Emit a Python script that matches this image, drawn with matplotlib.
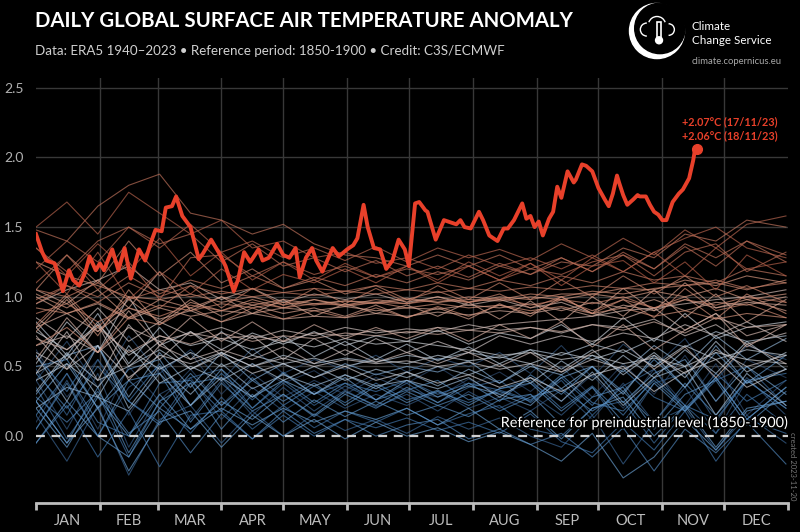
import numpy as np
import matplotlib
matplotlib.use("Agg")
import matplotlib.pyplot as plt
from matplotlib.colors import LinearSegmentedColormap
from matplotlib.patches import Circle, Arc, Rectangle
import matplotlib.patheffects as pe

plt.rcParams['font.family'] = ['Lato', 'DejaVu Sans']

# ---------------- data ----------------
months = ['JAN', 'FEB', 'MAR', 'APR', 'MAY', 'JUN', 'JUL', 'AUG', 'SEP', 'OCT', 'NOV', 'DEC']
month_starts = [0, 31, 59, 90, 120, 151, 181, 212, 243, 273, 304, 334, 365]
yticks = [0.0, 0.5, 1.0, 1.5, 2.0, 2.5]
ytick_labels = ['0.0', '0.5', '1.0', '1.5', '2.0', '2.5']

days_2023 = [0, 3, 5, 9, 11, 13, 16, 18, 21, 24, 26, 29, 31, 33, 37, 40, 43, 46, 50, 53,
             56, 58, 61, 63, 66, 68, 71, 75, 79, 81, 85, 89, 92, 96, 98, 101, 104, 108, 110, 113,
             117, 120, 123, 126, 128, 131, 134, 136, 139, 144, 147, 151, 154, 156, 159, 161, 164, 167, 170, 173,
             176, 179, 181, 184, 186, 189, 190, 194, 198, 202, 204, 206, 208, 211, 215, 217, 220, 224, 227, 229,
             232, 236, 238, 240, 242, 244, 246, 249, 251, 253, 255, 258, 261, 262, 265, 267, 270, 273, 276, 278,
             280, 282, 283, 285, 287, 290, 292, 293, 296, 298, 300, 302, 304, 306, 309, 312, 314, 317, 319, 320, 321]
temp_2023 = [1.45, 1.32, 1.26, 1.24, 1.15, 1.04, 1.19, 1.12, 1.08, 1.18, 1.29, 1.19, 1.24, 1.19, 1.34, 1.19, 1.35, 1.13, 1.34, 1.26,
             1.40, 1.48, 1.47, 1.64, 1.65, 1.72, 1.58, 1.50, 1.27, 1.31, 1.41, 1.31, 1.22, 1.04, 1.12, 1.32, 1.25, 1.34, 1.26, 1.28,
             1.38, 1.30, 1.28, 1.35, 1.14, 1.28, 1.35, 1.26, 1.18, 1.35, 1.29, 1.34, 1.37, 1.42, 1.66, 1.50, 1.35, 1.34, 1.20, 1.26,
             1.41, 1.34, 1.22, 1.67, 1.68, 1.62, 1.61, 1.41, 1.55, 1.53, 1.52, 1.55, 1.50, 1.49, 1.61, 1.55, 1.44, 1.40, 1.49, 1.49,
             1.55, 1.67, 1.56, 1.58, 1.50, 1.54, 1.44, 1.56, 1.61, 1.79, 1.71, 1.90, 1.82, 1.84, 1.95, 1.94, 1.90, 1.78, 1.70, 1.65,
             1.74, 1.87, 1.82, 1.73, 1.66, 1.70, 1.73, 1.72, 1.72, 1.66, 1.61, 1.59, 1.55, 1.55, 1.68, 1.74, 1.77, 1.85, 1.98, 2.07, 2.06]

bg_days = [0, 15, 30, 45, 60, 75, 90, 105, 120, 135, 150, 165, 180, 195, 210, 225, 240, 255, 270, 285, 300, 315, 330, 345, 364]
bg_years = [1940, 1942, 1944, 1946, 1948, 1950, 1952, 1954, 1956, 1958, 1960, 1962, 1964, 1966, 1968, 1970,
            1972, 1974, 1976, 1978, 1980, 1982, 1984, 1986, 1987, 1988, 1989, 1990, 1991, 1992, 1993, 1994,
            1995, 1996, 1997, 1998, 1999, 2000, 2001, 2002, 2003, 2004, 2005, 2006, 2007, 2008, 2009, 2010,
            2011, 2012, 2013, 2014, 2015, 2016, 2017, 2018, 2019, 2020, 2021, 2022]
t1940 = [0.62, 0.28, 0.55, 0.15, 0.48, 0.60, 0.30, 0.52, 0.38, 0.47, 0.33, 0.45, 0.38, 0.50, 0.36, 0.46, 0.32, 0.50, 0.28, 0.52, 0.30, 0.58, 0.25, 0.55, 0.42]
t1942 = [0.10, 0.45, 0.05, 0.50, 0.25, 0.48, 0.22, 0.45, 0.28, 0.40, 0.30, 0.42, 0.33, 0.28, 0.41, 0.30, 0.38, 0.25, 0.44, 0.20, 0.48, 0.22, 0.52, 0.15, 0.40]
t1944 = [0.40, 0.68, 0.35, 0.72, 0.45, 0.62, 0.40, 0.63, 0.45, 0.55, 0.48, 0.58, 0.46, 0.56, 0.50, 0.60, 0.45, 0.65, 0.42, 0.66, 0.50, 0.70, 0.40, 0.65, 0.55]
t1946 = [0.40, 0.05, 0.45, -0.08, 0.30, 0.42, 0.12, 0.35, 0.18, 0.32, 0.20, 0.30, 0.22, 0.32, 0.20, 0.28, 0.18, 0.33, 0.12, 0.38, 0.10, 0.35, 0.02, 0.40, 0.20]
t1948 = [0.05, 0.40, 0.00, 0.35, 0.50, 0.12, 0.40, 0.15, 0.35, 0.18, 0.33, 0.21, 0.30, 0.18, 0.32, 0.20, 0.30, 0.15, 0.35, 0.05, 0.38, 0.45, 0.10, 0.42, 0.15]
t1950 = [0.15, -0.18, 0.22, -0.28, 0.12, 0.22, -0.05, 0.18, 0.00, 0.16, 0.04, 0.12, 0.02, 0.14, 0.05, 0.13, 0.00, -0.08, 0.15, -0.20, 0.10, 0.20, -0.10, 0.15, -0.05]
t1952 = [0.48, 0.15, 0.55, 0.25, 0.10, 0.42, 0.48, 0.20, 0.38, 0.22, 0.36, 0.26, 0.38, 0.24, 0.35, 0.40, 0.24, 0.40, 0.15, 0.36, 0.48, 0.18, 0.40, 0.50, 0.22]
t1954 = [0.35, -0.02, 0.30, -0.15, 0.25, 0.02, 0.28, 0.05, 0.22, 0.06, 0.18, 0.10, 0.20, 0.08, 0.16, 0.22, 0.05, 0.00, 0.20, 0.25, -0.05, 0.22, 0.02, 0.30, 0.08]
t1956 = [-0.05, 0.22, -0.15, 0.18, -0.22, 0.15, 0.18, -0.02, 0.15, 0.00, 0.12, 0.06, 0.13, 0.04, 0.10, 0.02, 0.16, -0.04, -0.12, 0.10, -0.10, 0.18, -0.18, 0.12, 0.02]
t1958 = [0.58, 0.32, 0.65, 0.25, 0.52, 0.22, 0.45, 0.26, 0.46, 0.30, 0.38, 0.32, 0.40, 0.30, 0.38, 0.33, 0.26, 0.42, 0.22, 0.48, 0.28, 0.18, 0.45, 0.25, 0.40]
t1960 = [0.15, 0.45, 0.10, 0.00, 0.38, 0.40, 0.18, 0.42, 0.22, 0.36, 0.24, 0.38, 0.26, 0.32, 0.24, 0.34, 0.40, 0.20, 0.36, 0.15, 0.42, 0.22, 0.12, 0.40, 0.45]
t1962 = [0.45, 0.20, 0.50, 0.25, 0.08, 0.38, 0.42, 0.20, 0.40, 0.24, 0.38, 0.26, 0.33, 0.40, 0.26, 0.32, 0.25, 0.44, 0.24, 0.18, 0.40, 0.20, 0.42, 0.12, 0.35]
t1964 = [0.28, 0.10, 0.32, 0.02, 0.18, -0.12, 0.16, -0.02, 0.18, 0.02, 0.12, 0.00, 0.08, 0.12, -0.02, 0.05, -0.06, 0.02, -0.15, 0.06, -0.25, 0.05, -0.12, 0.10, -0.20]
t1966 = [0.05, 0.38, 0.00, 0.40, 0.45, 0.10, 0.38, 0.18, 0.30, 0.14, 0.30, 0.20, 0.32, 0.22, 0.30, 0.18, 0.28, 0.34, 0.18, 0.32, 0.10, 0.38, 0.15, 0.40, 0.20]
t1968 = [0.25, -0.05, 0.35, -0.12, 0.25, 0.38, 0.05, 0.30, 0.10, 0.26, 0.14, 0.25, 0.15, 0.22, 0.14, 0.26, 0.30, 0.08, 0.28, 0.35, 0.05, 0.30, 0.40, 0.08, 0.32]
t1970 = [0.50, 0.55, 0.20, 0.40, 0.20, 0.45, 0.22, 0.40, 0.25, 0.38, 0.22, 0.36, 0.24, 0.33, 0.22, 0.34, 0.38, 0.18, 0.35, 0.10, 0.38, 0.18, 0.42, 0.12, 0.35]
t1972 = [-0.05, 0.25, 0.00, -0.15, 0.20, 0.05, 0.25, 0.12, 0.30, 0.15, 0.32, 0.22, 0.35, 0.24, 0.38, 0.25, 0.44, 0.30, 0.50, 0.32, 0.55, 0.35, 0.60, 0.38, 0.58]
t1974 = [0.20, -0.08, 0.28, 0.00, 0.30, 0.05, 0.20, 0.08, 0.20, 0.10, 0.18, 0.12, 0.20, 0.08, 0.20, 0.05, 0.18, -0.02, 0.20, 0.28, 0.00, 0.22, -0.08, 0.20, 0.25]
t1976 = [0.25, -0.05, 0.20, -0.25, 0.10, 0.18, -0.08, 0.15, 0.00, 0.12, -0.02, 0.10, 0.00, 0.06, -0.04, 0.03, -0.06, -0.18, 0.02, -0.30, -0.15, 0.12, -0.10, 0.18, 0.25]
t1978 = [0.25, 0.52, 0.20, 0.48, 0.55, 0.22, 0.48, 0.28, 0.40, 0.30, 0.42, 0.26, 0.40, 0.28, 0.36, 0.30, 0.22, 0.42, 0.50, 0.24, 0.45, 0.55, 0.25, 0.50, 0.30]
t1980 = [0.30, 0.58, 0.65, 0.28, 0.60, 0.35, 0.60, 0.40, 0.52, 0.42, 0.52, 0.44, 0.50, 0.46, 0.54, 0.38, 0.52, 0.34, 0.50, 0.30, 0.58, 0.35, 0.65, 0.38, 0.48]
t1982 = [0.20, 0.35, 0.28, 0.18, 0.45, 0.22, 0.42, 0.28, 0.45, 0.30, 0.44, 0.34, 0.46, 0.36, 0.48, 0.38, 0.50, 0.44, 0.58, 0.46, 0.65, 0.50, 0.72, 0.55, 0.70]
t1984 = [0.58, 0.25, 0.65, 0.20, 0.50, 0.30, 0.52, 0.34, 0.44, 0.36, 0.44, 0.36, 0.40, 0.34, 0.42, 0.28, 0.42, 0.25, 0.46, 0.22, 0.42, 0.50, 0.15, 0.45, 0.22]
t1986 = [0.32, 0.60, 0.28, 0.65, 0.38, 0.50, 0.40, 0.52, 0.40, 0.50, 0.40, 0.48, 0.42, 0.50, 0.44, 0.52, 0.38, 0.54, 0.40, 0.58, 0.42, 0.62, 0.45, 0.68, 0.48]
t1987 = [0.45, 0.58, 0.40, 0.50, 0.62, 0.48, 0.60, 0.50, 0.58, 0.52, 0.56, 0.53, 0.58, 0.55, 0.60, 0.56, 0.62, 0.58, 0.66, 0.60, 0.70, 0.64, 0.75, 0.68, 0.72]
t1988 = [0.82, 0.58, 0.88, 0.52, 0.78, 0.55, 0.75, 0.58, 0.72, 0.57, 0.68, 0.55, 0.66, 0.54, 0.64, 0.52, 0.62, 0.48, 0.62, 0.44, 0.60, 0.42, 0.68, 0.46, 0.60]
t1989 = [0.40, 0.52, 0.35, 0.62, 0.48, 0.60, 0.50, 0.58, 0.52, 0.56, 0.50, 0.55, 0.52, 0.58, 0.54, 0.57, 0.52, 0.60, 0.55, 0.62, 0.50, 0.65, 0.55, 0.62, 0.58]
t1990 = [0.52, 0.82, 0.60, 1.00, 0.65, 0.75, 0.62, 0.74, 0.66, 0.75, 0.65, 0.72, 0.68, 0.76, 0.66, 0.74, 0.70, 0.80, 0.66, 0.85, 0.68, 0.88, 0.70, 0.78, 0.82]
t1991 = [0.75, 0.62, 0.80, 0.58, 0.72, 0.65, 0.70, 0.62, 0.68, 0.64, 0.70, 0.66, 0.68, 0.65, 0.62, 0.58, 0.60, 0.55, 0.58, 0.52, 0.56, 0.50, 0.60, 0.55, 0.52]
t1992 = [0.78, 0.55, 0.82, 0.50, 0.68, 0.48, 0.58, 0.45, 0.52, 0.42, 0.50, 0.40, 0.46, 0.38, 0.44, 0.35, 0.42, 0.32, 0.44, 0.50, 0.32, 0.46, 0.55, 0.35, 0.48]
t1993 = [0.60, 0.48, 0.65, 0.42, 0.58, 0.52, 0.60, 0.50, 0.56, 0.50, 0.55, 0.52, 0.54, 0.50, 0.53, 0.48, 0.52, 0.46, 0.55, 0.48, 0.58, 0.45, 0.62, 0.50, 0.58]
t1994 = [0.45, 0.75, 0.40, 0.80, 0.55, 0.75, 0.58, 0.72, 0.55, 0.70, 0.58, 0.70, 0.60, 0.68, 0.60, 0.72, 0.66, 0.72, 0.68, 0.74, 0.70, 0.80, 0.72, 0.82, 0.68]
t1995 = [0.85, 0.70, 0.92, 0.68, 0.82, 0.72, 0.78, 0.70, 0.76, 0.72, 0.78, 0.74, 0.77, 0.75, 0.80, 0.76, 0.78, 0.74, 0.80, 0.78, 0.84, 0.72, 0.80, 0.66, 0.74]
t1996 = [0.72, 0.48, 0.80, 0.40, 0.65, 0.55, 0.62, 0.55, 0.64, 0.52, 0.62, 0.53, 0.60, 0.52, 0.60, 0.50, 0.60, 0.46, 0.60, 0.68, 0.48, 0.64, 0.42, 0.66, 0.52]
t1997 = [0.65, 0.72, 0.60, 0.78, 0.68, 0.74, 0.70, 0.72, 0.68, 0.74, 0.72, 0.76, 0.74, 0.78, 0.76, 0.80, 0.82, 0.84, 0.86, 0.90, 0.92, 0.95, 0.98, 1.00, 1.05]
t1998 = [0.95, 1.05, 1.12, 1.22, 1.05, 1.10, 0.98, 1.06, 0.96, 1.02, 0.98, 1.02, 0.96, 1.00, 0.94, 0.98, 0.92, 0.96, 0.88, 0.84, 0.92, 0.76, 0.88, 0.72, 0.80]
t1999 = [0.70, 0.62, 0.78, 0.60, 0.72, 0.66, 0.74, 0.68, 0.72, 0.70, 0.74, 0.72, 0.75, 0.73, 0.76, 0.74, 0.78, 0.75, 0.80, 0.76, 0.82, 0.74, 0.85, 0.78, 0.80]
t2000 = [0.55, 0.85, 0.60, 0.90, 0.65, 0.85, 0.68, 0.82, 0.68, 0.80, 0.70, 0.78, 0.70, 0.78, 0.68, 0.80, 0.70, 0.82, 0.64, 0.80, 0.62, 0.76, 0.88, 0.64, 0.80]
t2001 = [0.78, 0.88, 0.75, 0.92, 0.84, 0.90, 0.82, 0.88, 0.84, 0.86, 0.85, 0.88, 0.86, 0.89, 0.87, 0.90, 0.88, 0.92, 0.86, 0.94, 0.90, 0.98, 0.92, 0.96, 0.94]
t2002 = [1.05, 0.95, 1.12, 0.92, 1.18, 0.90, 1.00, 0.88, 0.98, 0.86, 0.95, 0.88, 0.94, 0.86, 0.96, 0.84, 0.97, 0.82, 1.00, 0.86, 1.05, 0.85, 1.02, 0.82, 0.98]
t2003 = [1.00, 0.88, 0.95, 0.84, 0.92, 0.86, 0.90, 0.88, 0.92, 0.90, 0.93, 0.90, 0.92, 0.91, 0.94, 0.92, 0.95, 0.90, 0.96, 0.92, 0.98, 0.90, 0.96, 0.94, 1.00]
t2004 = [0.78, 1.00, 0.75, 0.98, 0.82, 0.98, 0.86, 0.94, 0.88, 0.92, 0.86, 0.94, 0.85, 0.92, 0.84, 0.95, 0.86, 1.00, 0.88, 1.06, 0.90, 1.10, 0.92, 0.98, 0.90]
t2005 = [1.02, 0.92, 1.05, 0.85, 0.98, 0.92, 1.00, 0.94, 0.98, 0.95, 0.97, 0.96, 0.99, 0.96, 0.98, 0.97, 1.00, 0.98, 1.02, 0.99, 1.04, 1.00, 1.06, 0.98, 1.02]
t2006 = [0.75, 0.98, 0.72, 1.05, 0.80, 0.96, 0.90, 0.98, 0.92, 0.98, 0.94, 0.98, 0.95, 1.00, 0.96, 1.00, 0.98, 1.02, 1.02, 1.06, 1.05, 1.12, 1.08, 1.15, 1.10]
t2007 = [1.25, 1.15, 1.08, 1.00, 0.98, 1.02, 0.96, 1.00, 0.94, 0.98, 0.93, 0.96, 0.92, 0.95, 0.92, 0.94, 0.90, 0.93, 0.88, 0.92, 0.86, 0.90, 0.84, 0.88, 0.85]
t2008 = [0.65, 0.78, 0.60, 0.85, 0.80, 0.92, 0.82, 0.92, 0.84, 0.90, 0.85, 0.92, 0.85, 0.93, 0.86, 0.94, 0.88, 0.98, 0.90, 0.98, 0.92, 1.00, 0.84, 1.02, 0.88]
t2009 = [0.92, 0.88, 0.96, 0.85, 0.94, 0.90, 0.95, 0.92, 0.96, 0.94, 0.97, 0.95, 0.98, 0.96, 1.00, 0.98, 1.02, 1.00, 1.04, 1.02, 1.06, 1.08, 1.10, 1.05, 1.12]
t2010 = [1.05, 1.30, 1.10, 1.40, 1.15, 1.32, 1.10, 1.20, 1.06, 1.12, 1.02, 1.08, 0.98, 1.04, 0.96, 1.02, 0.92, 1.00, 0.88, 0.98, 0.85, 1.06, 0.90, 0.95, 0.85]
t2011 = [0.88, 0.95, 0.82, 0.92, 0.86, 0.94, 0.90, 0.96, 0.92, 0.95, 0.94, 0.96, 0.95, 0.98, 0.96, 0.99, 0.94, 0.98, 0.95, 1.00, 0.92, 0.98, 0.94, 1.00, 0.96]
t2012 = [0.80, 1.02, 0.78, 1.00, 0.92, 1.08, 0.92, 1.06, 0.94, 1.06, 0.95, 1.06, 0.96, 1.08, 0.98, 1.10, 0.98, 1.12, 1.00, 1.15, 1.02, 1.15, 1.00, 1.08, 0.96]
t2013 = [1.05, 1.00, 1.10, 0.98, 1.05, 1.00, 1.04, 1.00, 1.03, 1.01, 1.04, 1.02, 1.05, 1.03, 1.06, 1.04, 1.07, 1.05, 1.08, 1.06, 1.10, 1.08, 1.12, 1.06, 1.10]
t2014 = [0.98, 1.08, 0.96, 1.10, 1.00, 1.08, 1.02, 1.06, 1.03, 1.06, 1.04, 1.08, 1.05, 1.10, 1.06, 1.12, 1.08, 1.15, 1.10, 1.18, 1.12, 1.15, 1.10, 1.20, 1.15]
t2015 = [0.95, 1.08, 1.00, 1.15, 1.02, 1.12, 1.06, 1.15, 1.06, 1.14, 1.08, 1.16, 1.10, 1.18, 1.12, 1.22, 1.16, 1.25, 1.22, 1.35, 1.28, 1.45, 1.40, 1.55, 1.50]
t2016 = [1.48, 1.40, 1.65, 1.80, 1.88, 1.60, 1.55, 1.45, 1.52, 1.38, 1.30, 1.28, 1.22, 1.30, 1.22, 1.30, 1.20, 1.28, 1.18, 1.30, 1.20, 1.38, 1.28, 1.40, 1.25]
t2017 = [1.35, 1.18, 1.40, 1.50, 1.38, 1.45, 1.25, 1.38, 1.22, 1.28, 1.18, 1.26, 1.15, 1.22, 1.14, 1.24, 1.16, 1.28, 1.18, 1.32, 1.20, 1.36, 1.22, 1.40, 1.30]
t2018 = [1.10, 1.30, 1.05, 1.25, 0.98, 1.28, 1.30, 1.15, 1.25, 1.16, 1.22, 1.14, 1.20, 1.16, 1.22, 1.12, 1.20, 1.16, 1.25, 1.30, 1.15, 1.32, 1.38, 1.18, 1.32]
t2019 = [1.20, 1.40, 1.25, 1.50, 1.35, 1.52, 1.32, 1.40, 1.28, 1.35, 1.26, 1.36, 1.25, 1.35, 1.28, 1.34, 1.26, 1.38, 1.28, 1.42, 1.30, 1.48, 1.35, 1.52, 1.58]
t2020 = [1.50, 1.68, 1.45, 1.75, 1.60, 1.45, 1.55, 1.35, 1.40, 1.28, 1.32, 1.24, 1.28, 1.20, 1.30, 1.22, 1.28, 1.20, 1.30, 1.18, 1.32, 1.42, 1.50, 1.35, 1.28]
t2021 = [1.25, 1.02, 1.32, 0.98, 1.18, 1.02, 1.20, 1.05, 1.16, 1.10, 1.20, 1.10, 1.22, 1.12, 1.25, 1.15, 1.24, 1.12, 1.28, 1.18, 1.32, 1.15, 1.35, 1.20, 1.25]
t2022 = [1.35, 1.15, 1.38, 1.18, 1.42, 1.15, 1.32, 1.12, 1.25, 1.12, 1.24, 1.14, 1.22, 1.10, 1.22, 1.12, 1.24, 1.08, 1.22, 1.26, 1.10, 1.25, 1.05, 1.30, 1.15]

bg_series = [t1940, t1942, t1944, t1946, t1948, t1950, t1952, t1954, t1956, t1958, t1960, t1962,
             t1964, t1966, t1968, t1970, t1972, t1974, t1976, t1978, t1980, t1982, t1984, t1986,
             t1987, t1988, t1989, t1990, t1991, t1992, t1993, t1994, t1995, t1996, t1997, t1998,
             t1999, t2000, t2001, t2002, t2003, t2004, t2005, t2006, t2007, t2008, t2009, t2010,
             t2011, t2012, t2013, t2014, t2015, t2016, t2017, t2018, t2019, t2020, t2021, t2022]

# ---------------- figure ----------------
W, H = 800, 532
fig = plt.figure(figsize=(8, 5.32), dpi=100, facecolor='black')
ax = fig.add_axes([36 / W, 1 - 503 / H, 752 / W, (503 - 78) / H], facecolor='black')
ax.set_xlim(0, 365)
ax.set_ylim(-0.48, 2.57)

grid_c = '#383838'
for v in yticks[1:]:
    ax.axhline(v, color=grid_c, lw=1.0, zorder=0)
for d in month_starts[1:-1]:
    ax.axvline(d, color=grid_c, lw=1.0, zorder=0)

cmap = LinearSegmentedColormap.from_list('yrs', [
    (0.0, '#2f4a6e'), (0.2, '#4177ad'), (0.45, '#6a9fd0'),
    (0.62, '#cfd4da'), (0.8, '#d99a82'), (1.0, '#b25c46')])
y0, y1 = bg_years[0], bg_years[-1]
for yr, vals in zip(bg_years, bg_series):
    ax.plot(bg_days, vals, color=cmap((yr - y0) / (y1 - y0)), lw=0.8, alpha=0.68, zorder=1)

ax.axhline(0.0, color='#cfcfcf', lw=1.6, ls=(0, (4, 3)), zorder=3)
ax.text(364.5, 0.05, 'Reference for preindustrial level (1850-1900)', color='white',
        fontsize=10.4, ha='right', va='bottom', zorder=4,
        path_effects=[pe.withStroke(linewidth=2.5, foreground='black')])

red = '#e8402a'
ax.plot(days_2023, temp_2023, color=red, lw=2.8, zorder=5, solid_joinstyle='round')
ax.plot(days_2023[-1], temp_2023[-1], 'o', color=red, ms=7, zorder=6)
ax.annotate('+2.07°C (17/11/23)', xy=(days_2023[-1], temp_2023[-1]), xytext=(-15, 27),
            textcoords='offset pixels', color=red, fontsize=7.8, fontweight='bold', va='center', ha='left')
ax.annotate('+2.06°C (18/11/23)', xy=(days_2023[-1], temp_2023[-1]), xytext=(-15, 13),
            textcoords='offset pixels', color=red, fontsize=7.8, fontweight='bold', va='center', ha='left')

# axes styling
for s in ['top', 'right', 'left']:
    ax.spines[s].set_visible(False)
ax.spines['bottom'].set_color('#bdbdbd')
ax.spines['bottom'].set_linewidth(2)
ax.set_xticks(month_starts)
ax.set_xticklabels([])
ax.tick_params(axis='x', colors='#bdbdbd', length=5, width=2, direction='out')
ax.set_xticks([(month_starts[i] + month_starts[i + 1]) / 2 for i in range(12)], minor=True)
ax.set_xticklabels(months, minor=True)
ax.tick_params(axis='x', which='minor', length=0, pad=8, labelsize=10.5, labelcolor='#bdbdbd')
ax.set_yticks(yticks)
ax.set_yticklabels(ytick_labels)
ax.tick_params(axis='y', length=0, pad=9, labelsize=10, labelcolor='#b0b0b0')

# titles
fig.text(35 / W, 1 - 21 / H, 'DAILY GLOBAL SURFACE AIR TEMPERATURE ANOMALY', color='white',
         fontsize=14.7, fontweight='bold', ha='left', va='center')
fig.text(35 / W, 1 - 51 / H, 'Data: ERA5 1940–2023 • Reference period: 1850-1900 • Credit: C3S/ECMWF',
         color='#d0d0d0', fontsize=9.6, ha='left', va='center')

# vertical credit text
fig.text(793 / W, 1 - 466 / H, 'created 2023-11-20', color='#777777', fontsize=5.5,
         rotation=270, ha='center', va='center')

# logo
lax = fig.add_axes([624 / W, 1 - 60 / H, 66 / W, 58 / H], facecolor='none')
lax.set_xlim(-1.14, 1.14)
lax.set_ylim(-1.0, 1.0)
lax.axis('off')
lax.add_patch(Circle((0, 0), 0.95, color='white'))
lax.add_patch(Circle((0.1, 0.09), 0.87, color='black'))
lax.add_patch(Arc((-0.35, 0.05), 0.45, 0.45, theta1=90, theta2=270, color='white', lw=1.0))
lax.add_patch(Arc((0.0, 0.2), 0.6, 0.6, theta1=20, theta2=160, color='white', lw=1.0))
lax.add_patch(Arc((0.4, 0.05), 0.4, 0.4, theta1=-90, theta2=90, color='white', lw=1.0))
lax.add_patch(Rectangle((0.0, -0.25), 0.14, 0.55, fill=False, ec='white', lw=1.2))
lax.add_patch(Circle((0.07, -0.32), 0.12, color='white'))
fig.text(692 / W, 1 - 27 / H, 'Climate', color='white', fontsize=8.4, ha='left', va='center')
fig.text(692 / W, 1 - 40 / H, 'Change Service', color='white', fontsize=8.4, ha='left', va='center')
fig.text(692 / W, 1 - 62 / H, 'climate.copernicus.eu', color='#a8a8a8', fontsize=6.8, ha='left', va='center')

fig.savefig('out.png', dpi=100, facecolor='black')
